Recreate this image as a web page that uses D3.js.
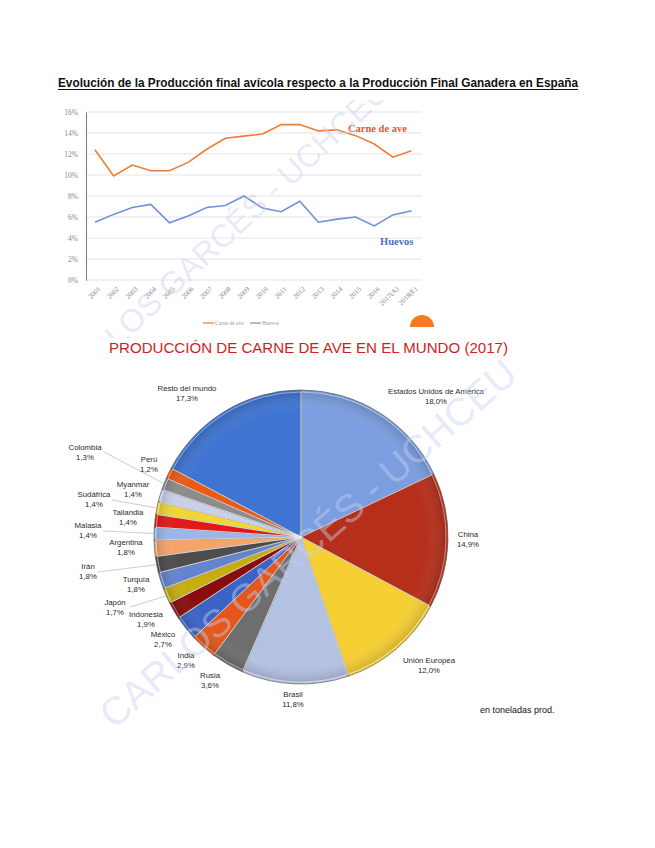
<!DOCTYPE html>
<html>
<head>
<meta charset="utf-8">
<script src="https://cdn.jsdelivr.net/npm/d3@7"></script>
<style>
  body { margin: 0; background: #fff; }
  svg { display: block; }
</style>
</head>
<body>
<div id="chart"></div>
<script>
var width = 655,
    height = 848

// line chart data
var years = ["2001","2002","2003","2004","2005","2006","2007","2008","2009","2010",
             "2011","2012","2013","2014","2015","2016","2017(A)","2018(E)"]
var carneAve = [12.4, 9.9, 10.95, 10.4, 10.4, 11.2, 12.45, 13.5, 13.7, 13.9,
                14.8, 14.8, 14.2, 14.3, 13.75, 12.95, 11.7, 12.3]
var huevos = [5.5, 6.25, 6.9, 7.2, 5.45, 6.1, 6.9, 7.1, 8.0, 6.85,
              6.5, 7.5, 5.5, 5.8, 6.0, 5.15, 6.2, 6.6]
var yTicks = [0, 2, 4, 6, 8, 10, 12, 14, 16]

// pie data, clockwise from 12 o'clock
var paises = ["Estados Unidos de América","China","Unión Europea","Brasil","Rusia","India",
              "México","Indonesia","Japón","Turquía","Irán","Argentina","Malasia",
              "Tailandia","Sudáfrica","Myanmar","Colombia","Perú","Resto del mundo"]
var cuota = [18.0, 14.9, 12.0, 11.8, 3.6, 2.9, 2.7, 1.9, 1.7, 1.8, 1.8, 1.8, 1.4,
             1.4, 1.4, 1.4, 1.3, 1.2, 17.3]
var colores = ["#7b9ee0","#b52f1b","#f6cf33","#b4c2e2","#6e6e6e","#e4561a",
               "#3b63c6","#8a0d0d","#c7ae10","#6385cf","#4d4d4d","#f5a46c","#9ab7e8",
               "#e41818","#f1d634","#c9d1ea","#8c8c8c","#ef5a12","#3f74d2"]

var svg = d3.select("#chart").append("svg")
    .attr("width", width)
    .attr("height", height)

var defs = svg.append("defs")

// ---------- title ----------
svg.append("text")
    .attr("x", 58).attr("y", 87)
    .attr("font-family", "Liberation Sans, Arial, sans-serif")
    .attr("font-weight", "bold")
    .attr("font-size", 12)
    .attr("textLength", 520).attr("lengthAdjust", "spacingAndGlyphs")
    .attr("fill", "#111")
    .text("Evolución de la Producción final avícola respecto a la Producción Final Ganadera en España")
svg.append("line")
    .attr("x1", 58).attr("x2", 578).attr("y1", 89.5).attr("y2", 89.5)
    .attr("stroke", "#111").attr("stroke-width", 1)

// ---------- line chart ----------
var x = d3.scalePoint().domain(years).range([95, 411.5])
var y = d3.scaleLinear().domain([0, 16]).range([280, 112])

var lineG = svg.append("g")

lineG.selectAll("line.grid")
    .data(yTicks)
  .enter().append("line")
    .attr("class", "grid")
    .attr("x1", 86).attr("x2", 422)
    .attr("y1", d => y(d)).attr("y2", d => y(d))
    .attr("stroke", "#dedede").attr("stroke-width", 0.8)

var yAxis = d3.axisLeft(y).tickValues(yTicks).tickSize(0).tickPadding(8)
    .tickFormat(d => d + "%")
lineG.append("g")
    .attr("transform", "translate(86,0)")
    .call(yAxis)
    .call(g => g.select(".domain").attr("stroke", "#555").attr("stroke-width", 0.8))
    .selectAll("text")
      .attr("font-family", "Liberation Serif, serif")
      .attr("font-size", 7.5)
      .attr("fill", "#888")

var xAxis = d3.axisBottom(x).tickSize(0).tickPadding(0)
lineG.append("g")
    .attr("transform", "translate(0,287)")
    .call(xAxis)
    .call(g => g.select(".domain").remove())
    .selectAll("text")
      .attr("font-family", "Liberation Serif, serif")
      .attr("font-size", 7)
      .attr("fill", "#888")
      .attr("text-anchor", "end")
      .attr("dy", "0.5em")
      .attr("transform", "translate(3,0) rotate(-45)")

var line = d3.line().x((d, i) => x(years[i])).y(d => y(d))

lineG.append("path")
    .datum(carneAve)
    .attr("d", line)
    .attr("fill", "none")
    .attr("stroke", "#ee7d33").attr("stroke-width", 1.6)

lineG.append("path")
    .datum(huevos)
    .attr("d", line)
    .attr("fill", "none")
    .attr("stroke", "#7190d6").attr("stroke-width", 1.6)

lineG.append("text")
    .attr("x", 348).attr("y", 132)
    .attr("font-family", "Liberation Serif, serif").attr("font-weight", "bold")
    .attr("font-size", 10.5).attr("fill", "#e3581c")
    .text("Carne de ave")
lineG.append("text")
    .attr("x", 380).attr("y", 245)
    .attr("font-family", "Liberation Serif, serif").attr("font-weight", "bold")
    .attr("font-size", 10.5).attr("fill", "#4a6fc4")
    .text("Huevos")

// legend
var legend = lineG.append("g").attr("transform", "translate(203,323)")
legend.append("line").attr("x1", 0).attr("x2", 11).attr("stroke", "#ee7d33").attr("stroke-width", 1.2)
legend.append("text").attr("x", 12).attr("y", 2)
    .attr("font-family", "Liberation Serif, serif").attr("font-size", 5.5).attr("fill", "#999")
    .text("Carne de ave")
legend.append("line").attr("x1", 47).attr("x2", 58).attr("stroke", "#7190d6").attr("stroke-width", 1.2)
legend.append("text").attr("x", 59).attr("y", 2)
    .attr("font-family", "Liberation Serif, serif").attr("font-size", 5.5).attr("fill", "#999")
    .text("Huevos")

// orange half disc decoration
svg.append("path")
    .attr("transform", "translate(422,327)")
    .attr("d", d3.arc()({innerRadius: 0, outerRadius: 12, startAngle: -Math.PI/2, endAngle: Math.PI/2}))
    .attr("fill", "#f47a1c")

// ---------- pie chart ----------
svg.append("text")
    .attr("x", 109).attr("y", 353)
    .attr("font-family", "Liberation Sans, Arial, sans-serif")
    .attr("font-size", 15.5)
    .attr("textLength", 399).attr("lengthAdjust", "spacingAndGlyphs")
    .attr("fill", "#cf1f26")
    .text("PRODUCCIÓN DE CARNE DE AVE EN EL MUNDO (2017)")

var cx = 301, cy = 537, R = 147
var pie = d3.pie().sort(null).value(d => d)
var arcs = pie(cuota)
var arc = d3.arc().innerRadius(0).outerRadius(R)
var bevel = d3.arc().innerRadius(0).outerRadius(R - 2)

var grad = defs.append("radialGradient").attr("id", "shade")
    .attr("cx", 0).attr("cy", 0).attr("r", R).attr("gradientUnits", "userSpaceOnUse")
grad.append("stop").attr("offset", "0%").attr("stop-color", "#fff").attr("stop-opacity", 0)
grad.append("stop").attr("offset", "85%").attr("stop-color", "#fff").attr("stop-opacity", 0)
grad.append("stop").attr("offset", "100%").attr("stop-color", "#000").attr("stop-opacity", 0.18)

var pg = svg.append("g").attr("transform", "translate(" + cx + "," + cy + ")")

pg.selectAll("path.slice")
    .data(arcs)
  .enter().append("path")
    .attr("class", "slice")
    .attr("d", arc)
    .attr("fill", (d, i) => colores[i])
    .attr("stroke", "#5a5a5a").attr("stroke-width", 0.7)

pg.selectAll("path.bevel")
    .data(arcs)
  .enter().append("path")
    .attr("class", "bevel")
    .attr("d", bevel)
    .attr("fill", "url(#shade)")
    .attr("stroke", "#fff").attr("stroke-opacity", 0.45).attr("stroke-width", 1)

// label layout (x, y of first line)
var labelPos = [
  [436, 394], [468, 537], [429, 663], [293, 697], [210, 678], [186, 658],
  [163, 637], [146, 617], [115, 605], [136, 582], [88, 569], [126, 545],
  [88, 528], [128, 515], [94, 497], [133, 487], [85, 450], [149, 462], [187, 391]
]
var leaders = {"Japón": [130, 607], "Irán": [98, 572], "Malasia": [103, 531],
               "Sudáfrica": [112, 500], "Colombia": [104, 452]}

var labels = svg.append("g")
    .attr("font-family", "Liberation Sans, Arial, sans-serif")
    .attr("font-size", 7.8)
    .attr("fill", "#2a2a2a")
    .attr("text-anchor", "middle")

arcs.forEach(function(a, i) {
  var name = paises[i]
  var p = labelPos[i]
  if (leaders[name]) {
    var mid = (a.startAngle + a.endAngle) / 2
    labels.append("line")
      .attr("x1", leaders[name][0]).attr("y1", leaders[name][1])
      .attr("x2", cx + R * Math.sin(mid)).attr("y2", cy - R * Math.cos(mid))
      .attr("stroke", "#aaa").attr("stroke-width", 0.6)
  }
  var t = labels.append("text").attr("x", p[0]).attr("y", p[1])
  t.append("tspan").attr("x", p[0]).text(name)
  t.append("tspan").attr("x", p[0]).attr("dy", 9.5)
    .text(d3.format(".1f")(cuota[i]).replace(".", ",") + "%")
})

svg.append("text")
    .attr("x", 480).attr("y", 713)
    .attr("font-family", "Liberation Sans, Arial, sans-serif")
    .attr("font-size", 9).attr("fill", "#111")
    .text("en toneladas prod.")

// ---------- watermark ----------
defs.append("clipPath").attr("id", "topclip")
  .append("rect").attr("x", 50).attr("y", 100).attr("width", 390).attr("height", 238)
var wm = svg.append("g")
    .attr("font-family", "Liberation Sans, Arial, sans-serif")
    .attr("fill", "#c9cff2").attr("fill-opacity", 0.45)
wm.append("g").attr("clip-path", "url(#topclip)")
  .append("text")
    .attr("transform", "translate(68,395) rotate(-43)")
    .attr("font-size", 32)
    .text("CARLOS GARCÉS - UCHCEU")
wm.append("text")
    .attr("transform", "translate(114,730) rotate(-41)")
    .attr("font-size", 39)
    .text("CARLOS GARCÉS - UCHCEU")
</script>
</body>
</html>
